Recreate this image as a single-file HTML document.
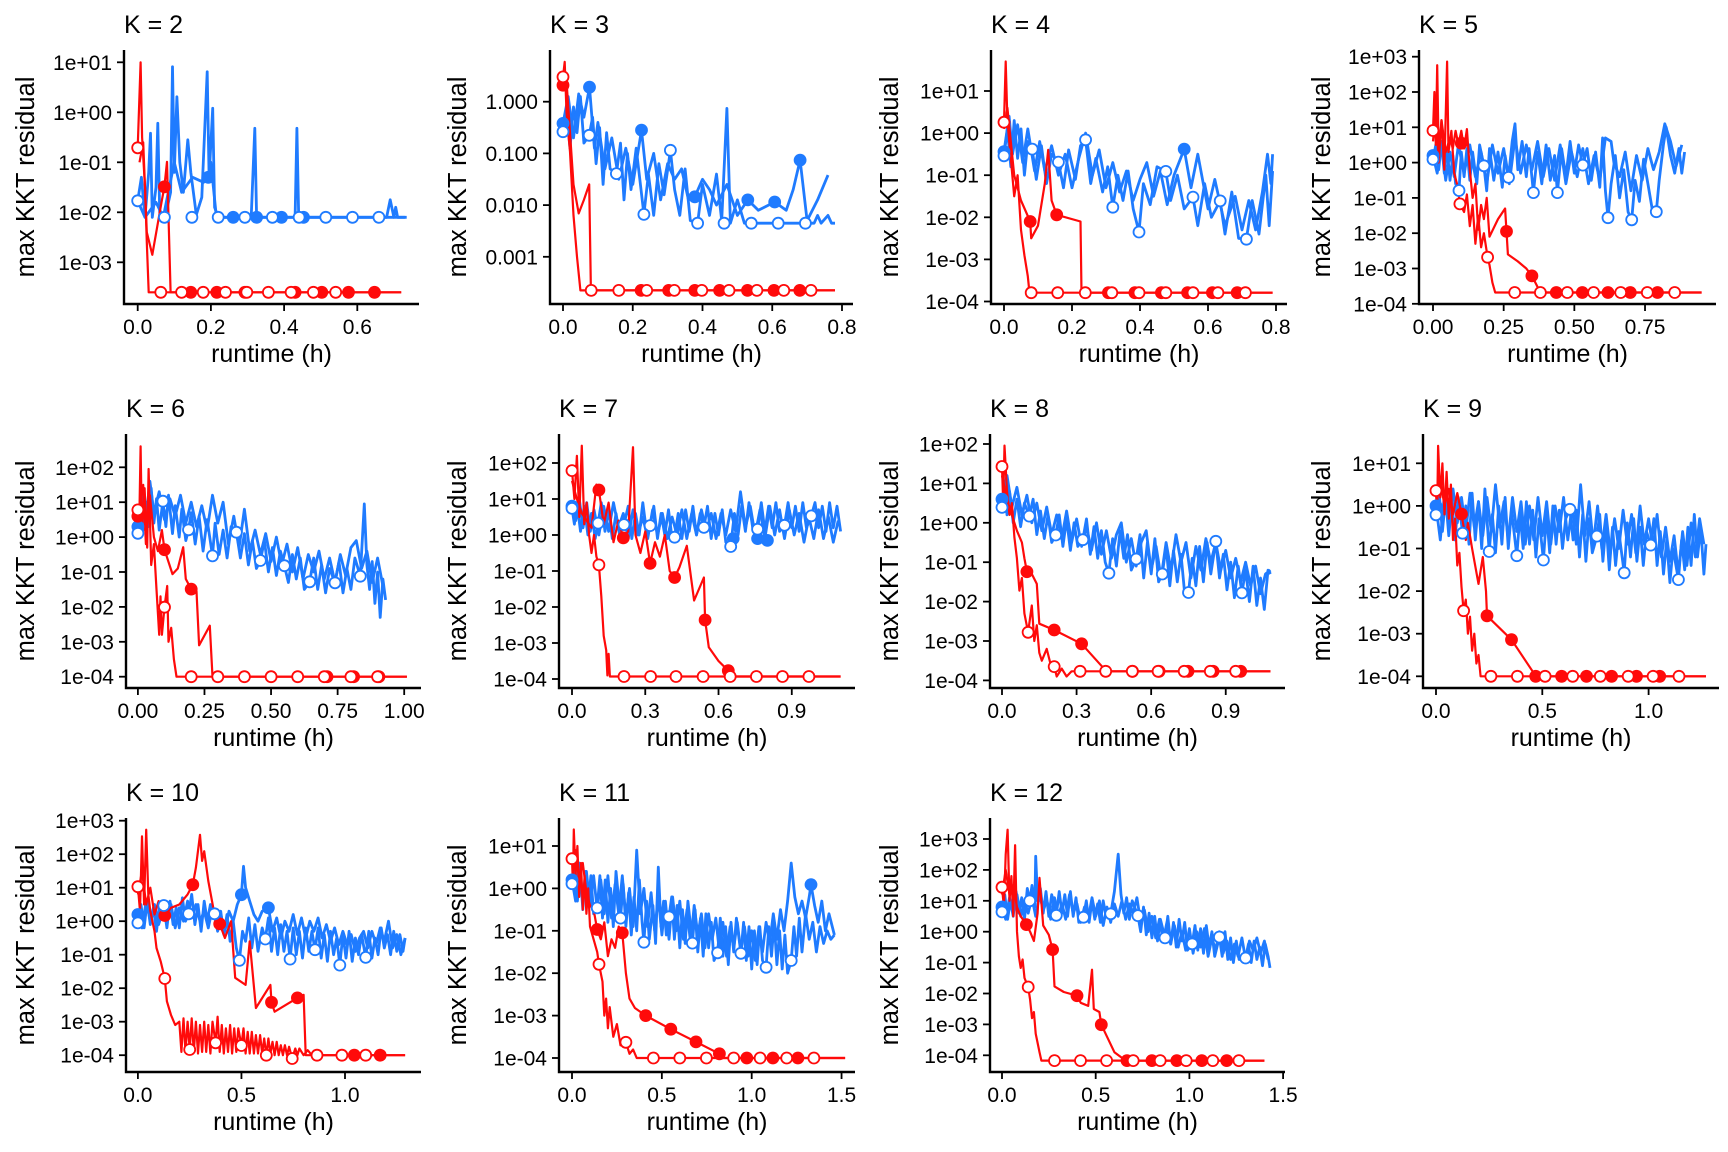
<!DOCTYPE html>
<html><head><meta charset="utf-8"><style>
html,body{margin:0;padding:0;background:#fff;}
svg{display:block;font-family:"Liberation Sans",Arial,sans-serif;}
</style></head><body>
<svg id="chart" width="1728" height="1152" viewBox="0 0 1728 1152" xmlns="http://www.w3.org/2000/svg"></svg>
<script>
// ---- data (y values are log10 of max KKT residual, x is runtime in hours) ----
const k2BlueOpen=[[0,-1.77],[0.01,-1.3],[0.02,-2.1],[0.03,-1.2],[0.035,-0.42],[0.04,-2.1],[0.05,-1.5],[0.055,-0.22],[0.06,-2.0],[0.075,-2.1],[0.09,-1.6],[0.095,0.91],[0.1,-1.2],[0.107,0.31],[0.115,-1.0],[0.125,-1.6],[0.137,-0.55],[0.145,-1.2],[0.16,-2.05],[0.175,-1.7],[0.19,0.81],[0.195,-1.3],[0.205,0.08],[0.21,-1.9],[0.22,-2.1],[0.31,-2.1],[0.32,-0.32],[0.325,-2.1],[0.43,-2.1],[0.435,-0.32],[0.44,-2.1],[0.68,-2.1],[0.69,-1.75],[0.7,-2.1],[0.705,-1.9],[0.71,-2.1],[0.735,-2.1]];
const k2BlueFilled=[[0,-1.77],[0.02,-2.1],[0.05,-1.8],[0.07,-2.1],[0.1,-1.0],[0.12,-1.6],[0.15,-1.3],[0.18,-1.4],[0.193,-1.3],[0.2,-1.0],[0.215,-2.1],[0.73,-2.1]];
const k2RedOpen=[[0,-0.71],[0.008,1.0],[0.012,-0.5],[0.02,-1.5],[0.025,-2.6],[0.03,-3.6],[0.72,-3.6]];
const k2RedFilled=[[0.005,-1.0],[0.015,-0.6],[0.025,-2.4],[0.04,-2.85],[0.065,-1.8],[0.073,-1.49],[0.08,-0.99],[0.09,-3.6],[0.72,-3.6]];
const k2BlueOpenMarks=[[0,-1.77],[0.073,-2.1],[0.148,-2.1],[0.22,-2.1],[0.293,-2.1],[0.368,-2.1],[0.441,-2.1],[0.514,-2.1],[0.587,-2.1],[0.659,-2.1]];
const k2BlueFilledMarks=[[0.193,-1.3],[0.261,-2.1],[0.325,-2.1],[0.393,-2.1],[0.453,-2.1]];
const k2RedOpenMarks=[[0,-0.71],[0.063,-3.6],[0.12,-3.6],[0.179,-3.6],[0.24,-3.6],[0.298,-3.6],[0.357,-3.6],[0.419,-3.6],[0.48,-3.6],[0.541,-3.6]];
const k2RedFilledMarks=[[0.073,-1.49],[0.145,-3.6],[0.216,-3.6],[0.293,-3.6],[0.43,-3.6],[0.503,-3.6],[0.576,-3.6],[0.647,-3.6]];

const k3BlueOpen=[[0,-0.58],[0.01,-0.2],[0.02,-0.9],[0.03,-0.1],[0.04,-0.6],[0.05,0.1],[0.06,-0.8],[0.075,-0.65],[0.085,-0.3],[0.095,-1.2],[0.105,-0.5],[0.115,-1.6],[0.125,-0.6],[0.135,-1.3],[0.153,-1.39],[0.165,-0.8],[0.175,-1.9],[0.185,-1.0],[0.195,-1.7],[0.21,-0.9],[0.232,-2.18],[0.245,-1.4],[0.26,-2.2],[0.275,-1.2],[0.29,-1.8],[0.308,-0.94],[0.32,-1.7],[0.335,-2.2],[0.35,-1.3],[0.365,-2.3],[0.386,-2.35],[0.4,-1.6],[0.42,-2.2],[0.44,-1.4],[0.455,-2.3],[0.47,-0.13],[0.48,-2.35],[0.5,-1.9],[0.52,-2.35],[0.72,-2.35],[0.73,-2.2],[0.74,-2.35],[0.76,-2.2],[0.77,-2.35],[0.78,-2.35]];
const k3BlueFilled=[[0,-0.42],[0.015,0.1],[0.03,-0.7],[0.045,0.15],[0.06,-0.3],[0.076,0.28],[0.09,-0.9],[0.1,-0.4],[0.12,-1.3],[0.14,-0.7],[0.16,-1.5],[0.18,-0.9],[0.2,-1.6],[0.225,-0.55],[0.24,-1.5],[0.26,-1.0],[0.28,-1.9],[0.3,-1.2],[0.32,-1.5],[0.34,-1.3],[0.36,-1.9],[0.378,-1.84],[0.4,-1.5],[0.42,-1.7],[0.44,-2.0],[0.47,-1.6],[0.5,-2.2],[0.53,-1.9],[0.56,-2.1],[0.607,-1.94],[0.64,-2.1],[0.66,-1.7],[0.68,-1.13],[0.7,-2.3],[0.73,-1.9],[0.76,-1.42]];
const k3RedOpen=[[0,0.48],[0.005,0.77],[0.01,-0.2],[0.02,-0.97],[0.03,-2.2],[0.04,-3.0],[0.05,-3.65],[0.78,-3.65]];
const k3RedFilled=[[0,0.32],[0.01,0.4],[0.02,-0.6],[0.03,-1.6],[0.045,-2.16],[0.06,-1.9],[0.075,-1.6],[0.08,-3.65],[0.78,-3.65]];
const k3BlueOpenMarks=[[0,-0.58],[0.075,-0.65],[0.153,-1.39],[0.232,-2.18],[0.308,-0.94],[0.386,-2.35],[0.462,-2.35],[0.54,-2.35],[0.617,-2.35],[0.695,-2.35]];
const k3BlueFilledMarks=[[0,-0.42],[0.076,0.28],[0.225,-0.55],[0.378,-1.84],[0.53,-1.9],[0.607,-1.94],[0.68,-1.13]];
const k3RedOpenMarks=[[0,0.48],[0.081,-3.65],[0.16,-3.65],[0.24,-3.65],[0.319,-3.65],[0.398,-3.65],[0.476,-3.65],[0.556,-3.65],[0.633,-3.65],[0.711,-3.65]];
const k3RedFilledMarks=[[0,0.32],[0.224,-3.65],[0.303,-3.65],[0.378,-3.65],[0.449,-3.65],[0.529,-3.65],[0.605,-3.65],[0.679,-3.65]];

const k4BlueOpen=[[0,-0.54],[0.01,0.1],[0.02,-0.8],[0.03,0.3],[0.04,-0.6],[0.05,0.1],[0.06,-1.0],[0.07,-0.2],[0.083,-0.38],[0.095,-1.1],[0.11,-0.3],[0.125,-1.2],[0.14,-0.5],[0.16,-0.69],[0.175,-1.3],[0.19,-0.4],[0.21,-1.1],[0.225,-0.3],[0.24,-0.16],[0.255,-1.2],[0.27,-0.6],[0.29,-1.4],[0.305,-0.8],[0.32,-1.76],[0.335,-1.0],[0.35,-1.6],[0.365,-0.9],[0.38,-1.8],[0.397,-2.35],[0.41,-1.2],[0.43,-1.7],[0.45,-0.8],[0.476,-0.91],[0.49,-1.6],[0.51,-1.0],[0.53,-1.8],[0.556,-1.52],[0.57,-2.2],[0.59,-1.2],[0.61,-2.0],[0.636,-1.61],[0.65,-2.4],[0.67,-1.4],[0.69,-2.5],[0.713,-2.52],[0.73,-1.6],[0.75,-2.4],[0.77,-1.0],[0.78,-2.2],[0.79,-0.9]];
const k4BlueFilled=[[0,-0.44],[0.015,0.4],[0.025,-0.5],[0.04,0.2],[0.055,-0.7],[0.07,0.1],[0.09,-0.9],[0.105,-0.2],[0.12,-0.9],[0.14,-0.3],[0.16,-1.0],[0.18,-0.5],[0.2,-1.3],[0.22,-0.6],[0.24,0.0],[0.26,-1.0],[0.28,-0.4],[0.3,-1.3],[0.32,-0.7],[0.34,-1.4],[0.36,-0.9],[0.38,-1.6],[0.4,-1.1],[0.42,-0.7],[0.44,-1.5],[0.46,-0.9],[0.48,-1.7],[0.5,-1.0],[0.53,-0.38],[0.55,-1.3],[0.57,-0.5],[0.6,-1.8],[0.62,-1.1],[0.65,-2.2],[0.68,-1.5],[0.7,-2.3],[0.72,-1.6],[0.74,-2.3],[0.76,-1.4],[0.775,-0.5],[0.785,-1.2],[0.79,-0.5]];
const k4RedOpen=[[0,0.26],[0.005,1.7],[0.01,0.3],[0.02,-0.6],[0.03,-1.5],[0.04,-1.0],[0.05,-2.3],[0.06,-2.9],[0.07,-3.4],[0.075,-3.79],[0.79,-3.79]];
const k4RedFilled=[[0,0.1],[0.01,0.6],[0.03,-1.0],[0.05,-1.6],[0.077,-2.1],[0.08,-2.5],[0.1,-2.2],[0.12,-1.2],[0.13,-0.4],[0.14,-1.6],[0.155,-1.94],[0.225,-2.1],[0.228,-3.79],[0.79,-3.79]];
const k4BlueOpenMarks=[[0,-0.54],[0.083,-0.38],[0.16,-0.69],[0.24,-0.16],[0.32,-1.76],[0.397,-2.35],[0.476,-0.91],[0.556,-1.52],[0.636,-1.61],[0.713,-2.52]];
const k4BlueFilledMarks=[[0,-0.44],[0.53,-0.38]];
const k4RedOpenMarks=[[0,0.26],[0.08,-3.79],[0.158,-3.79],[0.239,-3.79],[0.317,-3.79],[0.397,-3.79],[0.476,-3.79],[0.556,-3.79],[0.629,-3.79],[0.71,-3.79]];
const k4RedFilledMarks=[[0.077,-2.1],[0.155,-1.94],[0.307,-3.79],[0.385,-3.79],[0.463,-3.79],[0.54,-3.79],[0.613,-3.79],[0.686,-3.79]];

const k5BlueOpen=[[0,0.09],[0.01,0.5],[0.02,-0.2],[0.03,0.6],[0.04,-0.3],[0.05,0.4],[0.06,-0.5],[0.07,0.2],[0.08,-0.6],[0.092,-0.79],[0.1,0.3],[0.11,-0.4],[0.12,0.4],[0.13,-0.5],[0.14,0.3],[0.155,-0.6],[0.165,0.5],[0.18,-0.09],[0.19,-0.8],[0.2,0.4],[0.215,-0.5],[0.23,0.3],[0.245,-0.7],[0.255,0.2],[0.267,-0.42],[0.28,0.6],[0.29,1.1],[0.3,-0.2],[0.315,0.6],[0.33,-0.4],[0.34,0.4],[0.355,-0.85],[0.37,0.3],[0.385,-0.6],[0.4,0.5],[0.415,-0.5],[0.43,0.2],[0.44,-0.85],[0.455,0.4],[0.47,-0.4],[0.485,0.6],[0.5,-0.3],[0.515,0.5],[0.53,-0.07],[0.545,0.4],[0.56,-0.5],[0.575,0.3],[0.59,-0.7],[0.6,0.7],[0.61,-0.8],[0.619,-1.56],[0.63,-0.6],[0.645,0.2],[0.66,-1.0],[0.675,-0.2],[0.69,-1.4],[0.703,-1.62],[0.715,-0.5],[0.73,-1.1],[0.745,0.1],[0.76,-0.6],[0.775,-1.3],[0.79,-1.39],[0.8,-0.5],[0.815,0.5],[0.825,1.0],[0.84,0.2],[0.855,-0.3],[0.87,0.4],[0.88,-0.3],[0.89,0.3]];
const k5BlueFilled=[[0,0.2],[0.015,-0.3],[0.03,0.5],[0.045,-0.5],[0.06,0.3],[0.075,-0.4],[0.09,0.5],[0.11,-0.3],[0.13,0.5],[0.15,-0.4],[0.17,0.3],[0.19,-0.6],[0.21,0.5],[0.23,-0.3],[0.25,0.4],[0.27,-0.6],[0.29,0.7],[0.31,-0.3],[0.33,0.5],[0.35,-0.2],[0.37,0.6],[0.39,-0.4],[0.41,0.4],[0.43,-0.5],[0.45,0.5],[0.47,-0.6],[0.49,0.3],[0.51,-0.4],[0.53,0.4],[0.55,-0.6],[0.57,0.2],[0.59,-0.5],[0.61,0.7],[0.63,0.6],[0.64,0.0],[0.66,-0.4],[0.68,0.3],[0.7,-0.8],[0.72,0.2],[0.74,-0.5],[0.76,0.4],[0.78,-0.2],[0.8,0.3],[0.82,1.1],[0.84,0.6],[0.86,-0.1],[0.88,0.5]];
const k5RedOpen=[[0,0.91],[0.005,2.0],[0.01,0.5],[0.015,2.76],[0.02,0.2],[0.03,1.2],[0.04,-0.2],[0.05,2.86],[0.055,0.3],[0.065,0.9],[0.075,-0.3],[0.085,-0.6],[0.095,-1.17],[0.11,-1.4],[0.12,-0.9],[0.13,-1.8],[0.14,-1.2],[0.15,-2.3],[0.16,-1.5],[0.17,-2.4],[0.18,-2.0],[0.193,-2.68],[0.2,-2.9],[0.21,-3.4],[0.22,-3.68],[0.95,-3.68]];
const k5RedFilled=[[0,0.6],[0.01,1.5],[0.02,0.0],[0.03,1.2],[0.045,0.3],[0.06,0.7],[0.07,0.4],[0.08,0.9],[0.09,0.5],[0.1,0.9],[0.11,0.4],[0.12,0.95],[0.13,-0.2],[0.14,-1.0],[0.15,-0.6],[0.16,-1.9],[0.17,-1.2],[0.18,-1.6],[0.19,-1.0],[0.2,-2.1],[0.23,-1.6],[0.255,-1.3],[0.26,-1.95],[0.265,-2.6],[0.3,-2.8],[0.33,-3.0],[0.35,-3.21],[0.38,-3.68],[0.95,-3.68]];
const k5BlueOpenMarks=[[0,0.09],[0.092,-0.79],[0.18,-0.09],[0.267,-0.42],[0.355,-0.85],[0.44,-0.85],[0.53,-0.07],[0.619,-1.56],[0.703,-1.62],[0.79,-1.39]];
const k5BlueFilledMarks=[[0,0.2]];
const k5RedOpenMarks=[[0,0.91],[0.095,-1.17],[0.193,-2.68],[0.289,-3.68],[0.38,-3.68],[0.475,-3.68],[0.568,-3.68],[0.664,-3.68],[0.758,-3.68],[0.855,-3.68]];
const k5RedFilledMarks=[[0.1,0.55],[0.26,-1.95],[0.35,-3.21],[0.436,-3.68],[0.528,-3.68],[0.619,-3.68],[0.698,-3.68],[0.794,-3.68]];

const k6BlueOpen=[[0,0.11],[0.01,0.8],[0.02,0.2],[0.03,1.0],[0.04,0.3],[0.05,1.4],[0.06,0.4],[0.07,1.1],[0.08,0.2],[0.094,1.03],[0.105,0.3],[0.115,1.2],[0.13,0.1],[0.14,0.9],[0.155,0.0],[0.165,0.8],[0.18,-0.1],[0.19,0.21],[0.2,0.7],[0.215,-0.2],[0.23,0.6],[0.245,-0.4],[0.26,0.5],[0.28,-0.54],[0.29,0.4],[0.305,-0.5],[0.32,0.2],[0.335,-0.6],[0.35,0.3],[0.37,0.14],[0.385,-0.6],[0.4,0.1],[0.415,-0.8],[0.43,-0.1],[0.445,-0.9],[0.46,-0.67],[0.475,-0.1],[0.49,-1.0],[0.505,-0.3],[0.52,-1.1],[0.535,-0.4],[0.55,-0.82],[0.565,-1.3],[0.58,-0.5],[0.595,-1.2],[0.61,-0.6],[0.625,-1.5],[0.645,-1.28],[0.66,-0.6],[0.675,-1.5],[0.69,-0.8],[0.705,-1.6],[0.72,-0.9],[0.74,-1.31],[0.755,-0.7],[0.77,-1.6],[0.785,-0.9],[0.8,-1.5],[0.815,-0.6],[0.835,-1.12],[0.85,0.95],[0.86,-0.8],[0.87,-1.5],[0.88,-0.7],[0.89,-1.9],[0.9,-1.0],[0.91,-2.3],[0.92,-1.2],[0.93,-1.8]];
const k6BlueFilled=[[0,0.3],[0.015,1.2],[0.03,0.5],[0.045,1.6],[0.06,0.7],[0.08,1.3],[0.1,0.5],[0.12,1.1],[0.14,0.6],[0.16,1.2],[0.18,0.4],[0.2,1.0],[0.22,0.3],[0.24,0.9],[0.26,0.2],[0.28,1.2],[0.3,0.4],[0.32,1.0],[0.34,-0.2],[0.36,0.6],[0.38,-0.3],[0.4,0.8],[0.42,-0.4],[0.44,0.2],[0.46,-0.5],[0.48,0.1],[0.5,-0.7],[0.52,0.0],[0.54,-0.8],[0.56,-0.2],[0.58,-1.0],[0.6,-0.3],[0.62,-1.2],[0.64,-0.5],[0.66,-1.0],[0.68,-0.4],[0.7,-1.2],[0.72,-0.6],[0.74,-1.3],[0.76,-0.5],[0.78,-1.1],[0.8,-0.3],[0.82,-0.1],[0.84,-0.9],[0.86,-0.4],[0.88,-1.3],[0.9,-0.6],[0.92,-1.4]];
const k6RedOpen=[[0,0.78],[0.005,0.3],[0.01,2.6],[0.015,0.2],[0.025,1.4],[0.035,-0.3],[0.04,1.95],[0.05,-0.8],[0.06,-0.2],[0.07,-1.5],[0.08,-2.8],[0.085,-1.7],[0.09,-2.8],[0.1,-2.01],[0.11,-1.4],[0.115,-3.0],[0.125,-2.6],[0.135,-3.5],[0.145,-4.0],[1.01,-4.0]];
const k6RedFilled=[[0,0.6],[0.02,1.5],[0.03,-0.2],[0.045,1.2],[0.06,0.0],[0.075,-0.4],[0.09,0.2],[0.1,-0.36],[0.13,-1.06],[0.15,-0.9],[0.17,-0.29],[0.18,-1.2],[0.2,-1.49],[0.22,-1.55],[0.23,-3.1],[0.27,-2.54],[0.28,-4.0],[1.01,-4.0]];
const k6BlueOpenMarks=[[0,0.11],[0.094,1.03],[0.19,0.21],[0.28,-0.54],[0.37,0.14],[0.46,-0.67],[0.55,-0.82],[0.645,-1.28],[0.74,-1.31],[0.835,-1.12]];
const k6BlueFilledMarks=[[0,0.3]];
const k6RedOpenMarks=[[0,0.78],[0.1,-2.01],[0.2,-4],[0.3,-4],[0.4,-4],[0.5,-4],[0.6,-4],[0.7,-4],[0.8,-4],[0.9,-4]];
const k6RedFilledMarks=[[0,0.6],[0.1,-0.36],[0.2,-1.49],[0.71,-4],[0.81,-4],[0.905,-4]];

const k7BlueOpen=[[0,0.74],[0.01,0.3],[0.02,0.9],[0.035,0.1],[0.05,0.8],[0.065,0.0],[0.08,0.6],[0.095,-0.1],[0.107,0.33],[0.12,0.9],[0.135,0.1],[0.15,0.7],[0.165,-0.1],[0.18,0.6],[0.195,0.0],[0.213,0.29],[0.23,0.8],[0.245,-0.1],[0.26,0.6],[0.275,0.0],[0.29,0.9],[0.305,0.1],[0.32,0.26],[0.335,0.8],[0.35,-0.1],[0.365,0.6],[0.38,0.0],[0.395,0.7],[0.41,-0.1],[0.42,-0.06],[0.435,0.6],[0.45,-0.1],[0.465,0.7],[0.48,0.1],[0.495,0.8],[0.51,0.0],[0.525,0.6],[0.54,0.21],[0.555,0.8],[0.57,-0.1],[0.585,0.6],[0.6,0.0],[0.615,0.7],[0.63,-0.2],[0.65,-0.32],[0.665,0.6],[0.68,0.0],[0.695,0.8],[0.71,0.1],[0.725,0.9],[0.74,0.2],[0.76,0.16],[0.775,0.9],[0.79,0.1],[0.805,0.8],[0.82,0.2],[0.835,0.9],[0.85,0.1],[0.87,0.27],[0.885,0.9],[0.9,0.2],[0.915,0.8],[0.93,0.1],[0.945,0.9],[0.96,0.2],[0.98,0.53],[0.995,0.9],[1.01,0.2],[1.025,0.8],[1.04,0.1],[1.055,0.9],[1.07,0.2],[1.085,0.8],[1.1,0.1]];
const k7BlueFilled=[[0,0.8],[0.015,0.4],[0.03,1.0],[0.045,0.2],[0.06,0.9],[0.075,0.1],[0.09,0.7],[0.11,0.0],[0.13,0.8],[0.15,0.1],[0.17,0.9],[0.19,0.2],[0.21,0.6],[0.23,-0.1],[0.25,0.7],[0.27,0.0],[0.29,0.5],[0.31,-0.1],[0.33,0.7],[0.35,0.0],[0.37,0.6],[0.39,-0.1],[0.41,0.5],[0.43,0.0],[0.45,0.7],[0.47,-0.1],[0.49,0.6],[0.51,0.0],[0.53,0.7],[0.55,0.1],[0.57,0.6],[0.59,-0.1],[0.61,0.6],[0.63,0.0],[0.65,0.7],[0.67,0.1],[0.69,1.2],[0.71,0.2],[0.73,0.8],[0.75,0.0],[0.77,0.7],[0.79,-0.1],[0.81,0.8],[0.83,0.0],[0.85,0.7],[0.87,-0.1],[0.89,0.7],[0.91,0.0],[0.93,0.6],[0.95,-0.2],[0.97,0.5],[0.99,-0.1],[1.01,0.7],[1.03,-0.1],[1.05,0.5],[1.07,-0.2],[1.09,0.4]];
const k7RedOpen=[[0,1.79],[0.01,1.0],[0.02,2.2],[0.03,0.5],[0.04,2.48],[0.05,0.3],[0.06,0.9],[0.07,0.0],[0.08,-0.5],[0.09,0.0],[0.1,-0.6],[0.11,-0.83],[0.12,-1.7],[0.13,-2.8],[0.14,-3.2],[0.145,-3.9],[0.15,-3.3],[0.155,-3.93],[1.1,-3.93]];
const k7RedFilled=[[0,1.5],[0.02,1.0],[0.04,0.6],[0.06,0.4],[0.08,0.2],[0.1,1.4],[0.11,1.25],[0.13,0.3],[0.15,0.9],[0.17,-0.2],[0.19,0.4],[0.21,-0.08],[0.23,0.1],[0.25,2.44],[0.26,0.0],[0.28,-0.5],[0.3,0.1],[0.32,-0.79],[0.34,-0.2],[0.36,-0.6],[0.38,0.0],[0.4,-1.0],[0.42,-1.18],[0.44,-0.9],[0.47,-0.3],[0.5,-1.82],[0.54,-1.18],[0.545,-2.36],[0.56,-3.12],[0.6,-3.5],[0.64,-3.77],[0.66,-3.93],[1.1,-3.93]];
const k7BlueOpenMarks=[[0,0.74],[0.107,0.33],[0.213,0.29],[0.32,0.26],[0.42,-0.06],[0.54,0.21],[0.65,-0.32],[0.76,0.16],[0.87,0.27],[0.98,0.53]];
const k7BlueFilledMarks=[[0,0.8],[0.66,-0.1],[0.76,-0.1],[0.8,-0.15]];
const k7RedOpenMarks=[[0,1.79],[0.11,-0.83],[0.213,-3.93],[0.322,-3.93],[0.426,-3.93],[0.537,-3.93],[0.648,-3.93],[0.755,-3.93],[0.862,-3.93],[0.97,-3.93]];
const k7RedFilledMarks=[[0.11,1.25],[0.21,-0.08],[0.32,-0.79],[0.42,-1.18],[0.545,-2.36],[0.64,-3.77]];

const k8BlueOpen=[[0,0.39],[0.01,1.0],[0.02,0.2],[0.03,0.8],[0.045,0.0],[0.06,0.6],[0.075,-0.1],[0.09,0.5],[0.11,0.17],[0.125,0.6],[0.14,-0.3],[0.155,0.3],[0.17,-0.4],[0.185,0.2],[0.2,-0.5],[0.216,-0.31],[0.23,0.2],[0.245,-0.6],[0.26,0.1],[0.275,-0.7],[0.29,0.0],[0.305,-0.6],[0.325,-0.43],[0.34,0.1],[0.355,-0.8],[0.37,-0.1],[0.385,-0.9],[0.4,-0.2],[0.415,-1.0],[0.43,-1.28],[0.445,-0.4],[0.46,-1.1],[0.475,-0.2],[0.49,-0.9],[0.505,-0.3],[0.52,-1.2],[0.54,-0.92],[0.555,-0.3],[0.57,-1.4],[0.585,-0.5],[0.6,-1.3],[0.615,-0.4],[0.63,-1.5],[0.645,-1.3],[0.66,-0.6],[0.675,-1.6],[0.69,-0.7],[0.705,-1.5],[0.72,-0.8],[0.735,-1.8],[0.75,-1.77],[0.765,-0.9],[0.78,-1.6],[0.795,-0.6],[0.81,-1.5],[0.825,-0.5],[0.84,-1.3],[0.86,-0.47],[0.875,-1.4],[0.89,-0.8],[0.905,-1.7],[0.92,-1.0],[0.935,-1.9],[0.95,-1.1],[0.965,-1.78],[0.98,-1.2],[0.995,-2.0],[1.01,-1.1],[1.025,-2.1],[1.04,-1.4],[1.055,-2.2],[1.07,-1.2],[1.08,-1.3]];
const k8BlueFilled=[[0,0.6],[0.02,1.2],[0.04,0.4],[0.06,0.9],[0.08,0.2],[0.1,0.7],[0.12,0.0],[0.14,0.5],[0.16,-0.2],[0.18,0.4],[0.2,-0.3],[0.22,0.2],[0.24,-0.4],[0.26,0.3],[0.28,-0.5],[0.3,0.1],[0.32,-0.6],[0.34,-0.1],[0.36,-0.7],[0.38,0.0],[0.4,-0.8],[0.42,-0.2],[0.44,-0.9],[0.46,-0.3],[0.48,0.0],[0.5,-1.0],[0.52,-0.4],[0.54,-1.1],[0.56,-0.5],[0.58,-0.2],[0.6,-1.2],[0.62,-0.6],[0.64,-1.4],[0.66,-0.5],[0.68,-1.2],[0.7,-0.3],[0.72,-1.0],[0.74,-0.5],[0.76,-1.4],[0.78,-0.6],[0.8,-1.2],[0.82,-0.4],[0.84,-1.0],[0.86,-0.5],[0.88,-1.2],[0.9,-0.7],[0.92,-1.4],[0.94,-0.9],[0.96,-1.5],[0.98,-1.0],[1.0,-1.6],[1.02,-1.1],[1.04,-1.8],[1.06,-1.3],[1.08,-1.2]];
const k8RedOpen=[[0,1.43],[0.005,0.5],[0.01,1.96],[0.02,0.8],[0.03,0.2],[0.04,0.5],[0.05,-0.37],[0.06,-0.9],[0.07,-1.72],[0.08,-1.4],[0.09,-2.3],[0.105,-2.78],[0.12,-2.1],[0.13,-3.0],[0.14,-2.6],[0.15,-3.3],[0.16,-3.5],[0.18,-3.2],[0.2,-3.7],[0.21,-3.65],[0.22,-3.9],[0.24,-3.7],[0.26,-3.9],[0.28,-3.77],[1.08,-3.77]];
const k8RedFilled=[[0,1.2],[0.02,0.6],[0.04,0.2],[0.06,-0.2],[0.08,-0.5],[0.09,-0.9],[0.1,-1.24],[0.12,-1.3],[0.14,-1.55],[0.15,-2.56],[0.21,-2.72],[0.32,-3.07],[0.42,-3.77],[1.08,-3.77]];
const k8BlueOpenMarks=[[0,0.39],[0.11,0.17],[0.216,-0.31],[0.325,-0.43],[0.43,-1.28],[0.54,-0.92],[0.645,-1.3],[0.75,-1.77],[0.86,-0.47],[0.965,-1.78]];
const k8BlueFilledMarks=[[0,0.6]];
const k8RedOpenMarks=[[0,1.43],[0.105,-2.78],[0.21,-3.65],[0.314,-3.77],[0.417,-3.77],[0.524,-3.77],[0.628,-3.77],[0.733,-3.77],[0.838,-3.77],[0.94,-3.77]];
const k8RedFilledMarks=[[0.1,-1.24],[0.21,-2.72],[0.32,-3.07],[0.525,-3.77],[0.632,-3.77],[0.748,-3.77],[0.849,-3.77],[0.96,-3.77]];

const k9BlueOpen=[[0,-0.21],[0.015,0.3],[0.03,-0.6],[0.045,0.2],[0.06,-0.7],[0.075,0.1],[0.09,-0.8],[0.105,0.2],[0.125,-0.64],[0.14,0.0],[0.155,-0.9],[0.17,0.3],[0.185,-0.8],[0.2,0.1],[0.215,-1.0],[0.23,0.4],[0.25,-1.07],[0.265,-0.2],[0.28,-1.1],[0.295,0.0],[0.31,-0.9],[0.325,0.2],[0.34,-1.0],[0.355,-0.1],[0.38,-1.17],[0.395,-0.2],[0.41,-1.0],[0.425,0.1],[0.44,-0.9],[0.455,-0.1],[0.47,-1.2],[0.485,-0.3],[0.505,-1.27],[0.52,-0.2],[0.535,-1.1],[0.55,0.0],[0.565,-0.9],[0.58,-0.1],[0.595,-1.0],[0.61,-0.3],[0.63,-0.08],[0.645,-0.8],[0.66,-0.1],[0.675,-1.2],[0.69,-0.2],[0.705,-1.3],[0.72,-0.3],[0.735,-1.1],[0.757,-0.71],[0.77,-0.2],[0.785,-1.3],[0.8,-0.4],[0.815,-1.5],[0.83,-0.5],[0.845,-1.4],[0.86,-0.6],[0.885,-1.57],[0.9,-0.4],[0.915,-1.2],[0.93,-0.3],[0.945,-1.3],[0.96,-0.5],[0.975,-1.4],[0.99,-0.6],[1.01,-0.92],[1.025,-0.3],[1.04,-1.4],[1.055,-0.6],[1.07,-1.6],[1.085,-0.8],[1.1,-1.8],[1.115,-1.0],[1.14,-1.73],[1.155,-0.8],[1.17,-1.5],[1.185,-0.5],[1.2,-1.4],[1.215,-0.2],[1.23,-1.2],[1.245,-0.5],[1.26,-1.6],[1.27,-0.9]];
const k9BlueFilled=[[0,0.0],[0.02,-0.8],[0.04,0.3],[0.06,-0.5],[0.08,0.4],[0.1,-0.4],[0.12,0.2],[0.14,-0.6],[0.16,0.3],[0.18,-0.5],[0.2,0.1],[0.22,-0.7],[0.24,0.2],[0.26,-0.6],[0.28,0.5],[0.3,-0.5],[0.32,0.1],[0.34,-0.8],[0.36,0.2],[0.38,-0.6],[0.4,0.1],[0.42,-0.9],[0.44,0.0],[0.46,-0.8],[0.48,0.2],[0.5,-0.7],[0.52,0.1],[0.54,-0.9],[0.56,0.0],[0.58,-0.6],[0.6,0.2],[0.62,-0.8],[0.64,0.0],[0.66,-0.9],[0.68,0.5],[0.7,-0.7],[0.72,0.1],[0.74,-0.9],[0.76,0.0],[0.78,-1.0],[0.8,-0.2],[0.82,-1.1],[0.84,-0.3],[0.86,-1.0],[0.88,-0.1],[0.9,-0.9],[0.92,-0.2],[0.94,-1.1],[0.96,0.0],[0.98,-0.9],[1.0,-0.3],[1.02,-1.0],[1.04,-0.2],[1.06,-1.2],[1.08,-0.5],[1.1,-1.3],[1.12,-0.7],[1.14,-1.6],[1.16,-0.6],[1.18,-1.4],[1.2,-0.4],[1.22,-1.2],[1.24,-0.3],[1.26,-0.9]];
const k9RedOpen=[[0,0.36],[0.005,-0.3],[0.01,1.41],[0.02,0.2],[0.03,1.0],[0.04,-0.2],[0.05,0.8],[0.06,-0.3],[0.07,0.5],[0.08,-0.8],[0.09,-0.3],[0.1,-1.4],[0.11,-1.1],[0.12,-1.9],[0.13,-2.46],[0.14,-2.2],[0.15,-3.0],[0.16,-2.6],[0.17,-3.4],[0.18,-3.0],[0.19,-3.7],[0.2,-3.5],[0.21,-4.0],[1.27,-4.0]];
const k9RedFilled=[[0,0.2],[0.02,0.6],[0.04,0.0],[0.06,0.4],[0.08,-0.2],[0.1,0.3],[0.12,-0.19],[0.14,-0.8],[0.15,-0.4],[0.17,-1.0],[0.2,-1.83],[0.22,-1.2],[0.235,-2.0],[0.24,-2.58],[0.355,-3.14],[0.47,-4.0],[1.27,-4.0]];
const k9BlueOpenMarks=[[0,-0.21],[0.125,-0.64],[0.25,-1.07],[0.38,-1.17],[0.505,-1.27],[0.63,-0.08],[0.757,-0.71],[0.885,-1.57],[1.01,-0.92],[1.14,-1.73]];
const k9BlueFilledMarks=[[0,0.0]];
const k9RedOpenMarks=[[0,0.36],[0.13,-2.46],[0.258,-4],[0.383,-4],[0.513,-4],[0.643,-4],[0.773,-4],[0.904,-4],[1.021,-4],[1.143,-4]];
const k9RedFilledMarks=[[0.12,-0.19],[0.24,-2.58],[0.355,-3.14],[0.469,-4],[0.591,-4],[0.708,-4],[0.826,-4],[0.943,-4],[1.052,-4]];

const k10BlueOpen=[[0,-0.05],[0.015,0.5],[0.03,-0.2],[0.045,0.6],[0.06,-0.1],[0.075,0.4],[0.09,-0.3],[0.105,0.5],[0.125,0.47],[0.14,-0.2],[0.155,0.6],[0.17,-0.1],[0.185,0.4],[0.2,-0.2],[0.215,0.7],[0.23,0.0],[0.245,0.22],[0.26,0.8],[0.275,-0.1],[0.29,0.5],[0.305,-0.3],[0.32,0.6],[0.335,0.0],[0.35,0.5],[0.37,0.22],[0.385,-0.3],[0.4,0.3],[0.415,-0.4],[0.43,0.2],[0.445,-0.6],[0.46,0.0],[0.475,-0.8],[0.49,-1.17],[0.505,-0.3],[0.52,-0.6],[0.535,0.1],[0.55,-0.8],[0.565,-0.1],[0.58,-0.9],[0.6,-0.2],[0.615,-0.53],[0.63,0.1],[0.645,-0.9],[0.66,-0.2],[0.675,-1.0],[0.69,-0.1],[0.705,-0.9],[0.72,-0.3],[0.735,-1.13],[0.75,-0.2],[0.765,-1.0],[0.78,-0.3],[0.795,-1.1],[0.81,-0.2],[0.825,-0.9],[0.84,-0.3],[0.855,-0.85],[0.87,-0.2],[0.885,-1.1],[0.9,-0.4],[0.915,-1.2],[0.93,-0.3],[0.945,-1.0],[0.96,-0.5],[0.975,-1.31],[0.99,-0.4],[1.005,-1.1],[1.02,-0.3],[1.035,-1.2],[1.05,-0.5],[1.065,-1.0],[1.08,-0.4],[1.1,-1.08],[1.115,-0.3],[1.13,-1.1],[1.145,-0.5],[1.16,-1.0],[1.175,-0.2],[1.19,-0.8],[1.205,-0.4],[1.22,-1.0],[1.235,-0.3],[1.25,-0.9],[1.265,-0.4],[1.28,-0.9],[1.29,-0.5]];
const k10BlueFilled=[[0,0.2],[0.02,-0.2],[0.04,0.6],[0.06,0.0],[0.08,0.5],[0.1,-0.1],[0.12,0.3],[0.14,0.0],[0.16,0.5],[0.18,-0.2],[0.2,0.4],[0.22,0.0],[0.24,0.6],[0.26,0.1],[0.28,0.5],[0.3,0.0],[0.32,0.3],[0.34,-0.2],[0.36,0.4],[0.38,-0.1],[0.4,0.2],[0.42,-0.3],[0.44,0.3],[0.46,0.0],[0.48,0.5],[0.5,0.79],[0.51,1.64],[0.52,1.0],[0.54,0.6],[0.56,0.2],[0.58,0.0],[0.6,0.3],[0.63,0.4],[0.65,-0.3],[0.67,0.1],[0.69,-0.5],[0.71,0.0],[0.73,-0.3],[0.75,0.2],[0.77,-0.4],[0.79,0.1],[0.81,-0.5],[0.83,0.0],[0.85,-0.3],[0.87,0.1],[0.89,-0.5],[0.91,-0.1],[0.93,-0.6],[0.95,-0.2],[0.97,-0.7],[0.99,-0.3],[1.01,-0.7],[1.03,-0.4],[1.05,-0.9],[1.07,-0.5],[1.09,-0.3],[1.11,-0.8],[1.13,-0.3],[1.15,-0.7],[1.17,-0.2],[1.19,-0.6],[1.21,0.0],[1.23,-0.8],[1.25,-0.4],[1.27,-1.0],[1.29,-0.5]];
const k10RedOpen=[[0,1.03],[0.01,0.3],[0.02,2.53],[0.03,0.5],[0.04,2.73],[0.05,0.8],[0.06,0.3],[0.07,0.0],[0.08,-0.3],[0.09,-0.8],[0.1,-1.0],[0.11,-1.2],[0.13,-1.71],[0.14,-2.39],[0.16,-2.8],[0.18,-3.1],[0.2,-3.0],[0.21,-3.9],[0.22,-2.9],[0.23,-3.9],[0.24,-3.0],[0.25,-3.83],[0.26,-2.9],[0.27,-3.9],[0.28,-3.0],[0.29,-3.95],[0.3,-3.1],[0.31,-3.9],[0.32,-3.0],[0.33,-3.9],[0.34,-3.1],[0.35,-3.95],[0.36,-3.0],[0.375,-3.63],[0.385,-2.85],[0.395,-3.9],[0.405,-3.1],[0.415,-3.95],[0.425,-3.2],[0.435,-3.9],[0.445,-3.1],[0.455,-3.95],[0.465,-3.2],[0.475,-3.9],[0.485,-3.2],[0.5,-3.71],[0.51,-3.2],[0.52,-3.95],[0.53,-3.3],[0.54,-3.95],[0.55,-3.3],[0.56,-3.95],[0.57,-3.4],[0.58,-3.95],[0.59,-3.4],[0.6,-3.95],[0.61,-3.5],[0.62,-4.0],[0.63,-3.5],[0.64,-3.95],[0.65,-3.6],[0.66,-4.0],[0.67,-3.6],[0.68,-4.0],[0.69,-3.7],[0.7,-4.0],[0.71,-3.7],[0.72,-4.0],[0.73,-3.75],[0.745,-4.1],[0.76,-3.8],[0.77,-4.0],[0.78,-3.8],[0.8,-4.0],[0.82,-3.85],[0.84,-4.0],[0.86,-3.9],[0.88,-4.0],[1.29,-4.0]];
const k10RedFilled=[[0,0.8],[0.02,1.5],[0.04,0.5],[0.06,1.0],[0.08,0.2],[0.1,0.6],[0.13,0.17],[0.16,0.4],[0.2,0.5],[0.24,0.8],[0.265,1.09],[0.28,1.6],[0.3,2.58],[0.31,1.8],[0.32,2.09],[0.34,1.2],[0.37,0.2],[0.395,-0.08],[0.42,-0.5],[0.45,0.0],[0.47,-1.69],[0.52,-1.9],[0.54,-0.6],[0.57,-2.59],[0.64,-1.9],[0.645,-2.42],[0.66,-2.7],[0.77,-2.29],[0.8,-2.2],[0.81,-4.0],[1.29,-4.0]];
const k10BlueOpenMarks=[[0,-0.05],[0.125,0.47],[0.245,0.22],[0.37,0.22],[0.49,-1.17],[0.615,-0.53],[0.735,-1.13],[0.855,-0.85],[0.975,-1.31],[1.1,-1.08]];
const k10BlueFilledMarks=[[0,0.2],[0.5,0.79],[0.63,0.4]];
const k10RedOpenMarks=[[0,1.03],[0.13,-1.71],[0.25,-3.83],[0.375,-3.63],[0.5,-3.71],[0.62,-4.0],[0.745,-4.1],[0.865,-4.0],[0.985,-4.0],[1.1,-4.0]];
const k10RedFilledMarks=[[0.13,0.17],[0.265,1.09],[0.395,-0.08],[0.645,-2.42],[0.77,-2.29],[1.045,-4.0],[1.17,-4.0]];

const k11BlueOpen=[[0,0.11],[0.015,0.6],[0.03,-0.3],[0.045,0.5],[0.06,-0.5],[0.075,0.4],[0.09,-0.4],[0.105,0.3],[0.12,-0.6],[0.14,-0.46],[0.155,0.3],[0.17,-0.7],[0.185,0.2],[0.2,-0.8],[0.215,0.0],[0.23,-0.9],[0.245,0.4],[0.27,-0.7],[0.285,0.1],[0.3,-0.9],[0.315,-0.1],[0.33,-1.1],[0.345,-0.2],[0.36,-1.0],[0.375,0.2],[0.39,-0.8],[0.4,-1.27],[0.415,-0.3],[0.43,-1.2],[0.45,-0.4],[0.465,-1.3],[0.48,0.5],[0.495,-0.9],[0.51,-0.3],[0.525,-1.1],[0.54,-0.67],[0.555,-0.2],[0.57,-1.2],[0.585,-0.4],[0.6,-1.4],[0.615,-0.5],[0.63,-1.3],[0.645,-0.3],[0.67,-1.29],[0.685,-0.5],[0.7,-1.5],[0.715,-0.7],[0.73,-1.6],[0.745,-0.6],[0.76,-1.4],[0.775,-0.8],[0.79,-1.7],[0.81,-1.52],[0.825,-0.7],[0.84,-1.6],[0.855,-0.9],[0.87,-1.8],[0.885,-0.8],[0.9,-1.5],[0.915,-0.7],[0.94,-1.53],[0.955,-0.8],[0.97,-1.7],[0.985,-0.9],[1.0,-1.9],[1.015,-1.0],[1.03,-1.8],[1.045,-0.9],[1.06,-1.7],[1.08,-1.86],[1.095,-0.9],[1.11,-1.6],[1.125,-0.8],[1.14,-1.8],[1.155,-1.0],[1.17,-1.9],[1.185,-1.1],[1.2,-2.0],[1.22,-1.7],[1.235,-0.9],[1.25,-1.6],[1.265,-0.7],[1.28,-1.5],[1.3,-0.6],[1.32,-1.2],[1.34,-0.8],[1.36,-1.5],[1.38,-0.9],[1.4,-1.3],[1.42,-1.0],[1.44,-1.2],[1.46,-1.1]];
const k11BlueFilled=[[0,0.2],[0.02,-0.3],[0.04,0.6],[0.06,-0.2],[0.08,0.4],[0.1,-0.4],[0.12,0.3],[0.14,-0.5],[0.16,0.2],[0.18,-0.6],[0.2,0.3],[0.22,-0.7],[0.24,0.1],[0.26,-0.6],[0.28,0.3],[0.3,-0.7],[0.32,0.0],[0.34,-0.9],[0.36,0.9],[0.38,-0.6],[0.4,0.0],[0.42,-0.9],[0.44,-0.1],[0.46,-1.0],[0.48,-0.2],[0.5,-1.1],[0.52,-0.3],[0.54,-1.2],[0.56,-0.2],[0.58,-1.0],[0.6,-0.3],[0.62,-1.2],[0.64,-0.5],[0.66,-1.3],[0.68,-0.4],[0.7,-1.1],[0.72,-0.6],[0.74,-1.4],[0.76,-0.6],[0.78,-1.2],[0.8,-0.7],[0.82,-1.5],[0.84,-0.8],[0.86,-1.6],[0.88,-0.9],[0.9,-1.4],[0.92,-0.8],[0.94,-1.5],[0.96,-0.9],[0.98,-1.6],[1.0,-1.0],[1.02,-1.7],[1.04,-0.9],[1.06,-1.5],[1.08,-0.8],[1.1,-1.3],[1.12,-0.6],[1.14,-1.2],[1.16,-0.5],[1.18,-1.0],[1.2,-0.3],[1.22,0.6],[1.24,-0.2],[1.26,-0.6],[1.28,-0.3],[1.3,-0.7],[1.32,-0.2],[1.33,0.09],[1.35,-0.4],[1.37,-0.8],[1.39,-0.3],[1.41,-1.0],[1.43,-0.6],[1.46,-1.1]];
const k11RedOpen=[[0,0.7],[0.005,0.1],[0.01,1.39],[0.02,0.3],[0.03,1.0],[0.04,-0.2],[0.05,0.6],[0.06,-0.5],[0.07,0.3],[0.08,-0.6],[0.09,0.0],[0.1,-0.9],[0.12,-1.2],[0.14,-1.5],[0.15,-1.79],[0.17,-2.2],[0.18,-3.0],[0.19,-2.6],[0.2,-3.3],[0.21,-2.8],[0.23,-3.5],[0.25,-3.2],[0.27,-3.7],[0.3,-3.63],[0.32,-3.9],[0.34,-3.8],[0.36,-4.0],[1.52,-4.0]];
const k11RedFilled=[[0,0.6],[0.02,0.9],[0.04,0.2],[0.06,0.6],[0.08,-0.1],[0.1,-0.4],[0.12,-0.5],[0.14,-0.97],[0.16,-1.2],[0.18,-0.8],[0.2,-1.6],[0.22,-1.2],[0.24,-1.4],[0.26,-0.9],[0.28,-1.05],[0.3,-2.0],[0.32,-2.6],[0.35,-2.82],[0.41,-3.0],[0.55,-3.32],[0.69,-3.62],[0.82,-3.9],[0.84,-4.0],[1.52,-4.0]];
const k11BlueOpenMarks=[[0,0.11],[0.14,-0.46],[0.27,-0.7],[0.4,-1.27],[0.54,-0.67],[0.67,-1.29],[0.81,-1.52],[0.94,-1.53],[1.08,-1.86],[1.22,-1.7]];
const k11BlueFilledMarks=[[0,0.2],[1.33,0.09]];
const k11RedOpenMarks=[[0,0.7],[0.15,-1.79],[0.3,-3.63],[0.453,-4],[0.6,-4],[0.748,-4],[0.9,-4],[1.047,-4],[1.195,-4],[1.346,-4]];
const k11RedFilledMarks=[[0.14,-0.97],[0.28,-1.05],[0.41,-3.0],[0.55,-3.32],[0.69,-3.62],[0.82,-3.9],[0.973,-4],[1.118,-4],[1.257,-4]];

const k12BlueOpen=[[0,0.64],[0.015,1.2],[0.03,0.4],[0.045,1.0],[0.06,0.5],[0.075,1.3],[0.09,0.6],[0.105,1.1],[0.12,0.4],[0.135,1.4],[0.148,1.0],[0.16,1.5],[0.175,0.8],[0.18,2.44],[0.19,1.0],[0.205,1.4],[0.22,0.6],[0.235,1.3],[0.25,0.5],[0.265,1.2],[0.29,0.53],[0.305,1.3],[0.32,0.6],[0.335,1.2],[0.35,0.5],[0.365,1.3],[0.38,0.5],[0.395,1.1],[0.41,0.3],[0.435,0.47],[0.45,1.0],[0.465,0.3],[0.48,1.0],[0.495,0.4],[0.51,0.9],[0.525,0.3],[0.54,1.0],[0.555,0.5],[0.58,0.58],[0.6,1.3],[0.62,2.51],[0.635,1.2],[0.65,0.6],[0.665,1.1],[0.68,0.4],[0.695,1.0],[0.725,0.52],[0.74,0.0],[0.755,0.8],[0.77,-0.1],[0.785,0.6],[0.8,-0.2],[0.815,0.5],[0.83,-0.3],[0.845,0.4],[0.87,-0.2],[0.885,0.5],[0.9,-0.4],[0.915,0.3],[0.93,-0.5],[0.945,0.4],[0.96,-0.3],[0.975,0.3],[0.99,-0.6],[1.015,-0.39],[1.03,0.2],[1.045,-0.6],[1.06,0.1],[1.075,-0.7],[1.09,0.2],[1.105,-0.5],[1.12,0.0],[1.135,-0.8],[1.16,-0.17],[1.175,-0.8],[1.19,0.0],[1.205,-0.9],[1.22,-0.2],[1.235,-1.0],[1.25,-0.3],[1.265,-0.9],[1.3,-0.85],[1.315,-0.4],[1.33,-1.0],[1.345,-0.3],[1.36,-0.9],[1.375,-0.5],[1.39,-1.1],[1.405,-0.4],[1.42,-0.8],[1.43,-1.17]];
const k12BlueFilled=[[0,0.8],[0.02,0.4],[0.04,1.1],[0.06,0.6],[0.08,1.2],[0.1,0.5],[0.12,1.0],[0.14,0.6],[0.16,1.1],[0.18,0.5],[0.2,1.2],[0.22,0.7],[0.24,1.0],[0.26,0.4],[0.28,1.1],[0.3,0.5],[0.32,0.9],[0.34,0.4],[0.36,1.2],[0.38,0.6],[0.4,0.9],[0.42,0.3],[0.44,0.8],[0.46,0.4],[0.48,1.1],[0.5,0.5],[0.52,1.0],[0.54,0.2],[0.56,0.8],[0.58,0.3],[0.6,0.9],[0.62,0.5],[0.64,1.0],[0.66,0.4],[0.68,0.9],[0.7,0.6],[0.72,1.1],[0.74,0.3],[0.76,0.7],[0.78,0.0],[0.8,0.5],[0.82,-0.2],[0.84,0.4],[0.86,-0.3],[0.88,0.3],[0.9,-0.4],[0.92,0.2],[0.94,-0.5],[0.96,0.0],[0.98,-0.6],[1.0,0.1],[1.02,-0.7],[1.04,0.0],[1.06,-0.5],[1.08,0.1],[1.1,-0.8],[1.12,-0.2],[1.14,-0.6],[1.16,0.0],[1.18,-0.7],[1.2,-0.3],[1.22,-0.9],[1.24,-0.4],[1.26,-0.8],[1.28,-0.2],[1.3,-0.9],[1.32,-0.3],[1.34,-0.6],[1.36,-0.2],[1.38,-0.7],[1.4,-0.3],[1.42,-0.9]];
const k12RedOpen=[[0,1.44],[0.01,0.8],[0.02,2.5],[0.03,3.3],[0.04,1.0],[0.05,1.8],[0.06,0.5],[0.07,2.8],[0.08,0.0],[0.09,-0.8],[0.1,-1.17],[0.11,-0.9],[0.12,-1.5],[0.14,-1.79],[0.15,-2.2],[0.16,-2.8],[0.17,-2.6],[0.18,-3.3],[0.19,-3.6],[0.2,-3.9],[0.21,-4.17],[1.4,-4.17]];
const k12RedFilled=[[0,1.2],[0.02,2.0],[0.04,1.2],[0.06,1.5],[0.08,0.8],[0.1,0.5],[0.13,0.23],[0.15,0.0],[0.17,-0.3],[0.19,0.6],[0.2,1.74],[0.22,0.2],[0.25,-0.1],[0.27,-0.58],[0.28,-1.77],[0.33,-1.95],[0.4,-2.07],[0.42,-2.3],[0.46,-2.4],[0.48,-1.23],[0.49,-2.5],[0.52,-2.6],[0.53,-3.01],[0.6,-3.9],[0.66,-4.17],[1.4,-4.17]];
const k12BlueOpenMarks=[[0,0.64],[0.148,1.0],[0.29,0.53],[0.435,0.47],[0.58,0.58],[0.725,0.52],[0.87,-0.2],[1.015,-0.39],[1.16,-0.17],[1.3,-0.85]];
const k12BlueFilledMarks=[[0,0.8]];
const k12RedOpenMarks=[[0,1.44],[0.14,-1.79],[0.28,-4.17],[0.419,-4.17],[0.558,-4.17],[0.7,-4.17],[0.844,-4.17],[0.983,-4.17],[1.125,-4.17],[1.264,-4.17]];
const k12RedFilledMarks=[[0.13,0.23],[0.27,-0.58],[0.4,-2.07],[0.53,-3.01],[0.667,-4.17],[0.8,-4.17],[0.933,-4.17],[1.066,-4.17],[1.199,-4.17]];

// tick values / labels
const xTicksK2=[0,0.2,0.4,0.6], xTicksK3=[0,0.2,0.4,0.6,0.8], xTicksQuarter=[0,0.25,0.5,0.75], xTicksQuarter1=[0,0.25,0.5,0.75,1.0];
const xTicksTenth3=[0,0.3,0.6,0.9], xTicksHalf=[0,0.5,1.0], xTicksHalf15=[0,0.5,1.0,1.5];
const yTicksK3=[0,-1,-2,-3], yTickLabelsK3=['1.000','0.100','0.010','0.001'];

// ---- layout (pixel geometry, not data) ----
const panels=[
 {k:2,left:124,right:419,top:50,bottom:304,x0:137.7,xu:366,ye:1,yp:62.3,yd:50,xt:xTicksK2,xd:1,yt:[1,0,-1,-2,-3],s:[k2BlueOpen,k2BlueFilled,k2RedOpen,k2RedFilled],m:[k2BlueOpenMarks,k2BlueFilledMarks,k2RedOpenMarks,k2RedFilledMarks]},
 {k:3,left:550,right:853,top:50,bottom:304,x0:563,xu:348.75,ye:0,yp:101.7,yd:51.7,xt:xTicksK3,xd:1,yt:yTicksK3,yl:yTickLabelsK3,s:[k3BlueOpen,k3BlueFilled,k3RedOpen,k3RedFilled],m:[k3BlueOpenMarks,k3BlueFilledMarks,k3RedOpenMarks,k3RedFilledMarks]},
 {k:4,left:991,right:1287,top:50,bottom:304,x0:1004,xu:340,ye:1,yp:91,yd:42.1,xt:xTicksK3,xd:1,yt:[1,0,-1,-2,-3,-4],s:[k4BlueOpen,k4BlueFilled,k4RedOpen,k4RedFilled],m:[k4BlueOpenMarks,k4BlueFilledMarks,k4RedOpenMarks,k4RedFilledMarks]},
 {k:5,left:1419,right:1716,top:50,bottom:304,x0:1433,xu:282.7,ye:3,yp:56.7,yd:35.3,xt:xTicksQuarter,xd:2,yt:[3,2,1,0,-1,-2,-3,-4],s:[k5BlueOpen,k5BlueFilled,k5RedOpen,k5RedFilled],m:[k5BlueOpenMarks,k5BlueFilledMarks,k5RedOpenMarks,k5RedFilledMarks]},
 {k:6,left:126,right:421,top:434,bottom:688,x0:137.9,xu:266.3,ye:2,yp:467.3,yd:34.9,xt:xTicksQuarter1,xd:2,yt:[2,1,0,-1,-2,-3,-4],s:[k6BlueOpen,k6BlueFilled,k6RedOpen,k6RedFilled],m:[k6BlueOpenMarks,k6BlueFilledMarks,k6RedOpenMarks,k6RedFilledMarks]},
 {k:7,left:559,right:855,top:434,bottom:688,x0:572,xu:244.2,ye:2,yp:463,yd:36,xt:xTicksTenth3,xd:1,yt:[2,1,0,-1,-2,-3,-4],s:[k7BlueOpen,k7BlueFilled,k7RedOpen,k7RedFilled],m:[k7BlueOpenMarks,k7BlueFilledMarks,k7RedOpenMarks,k7RedFilledMarks]},
 {k:8,left:990,right:1285,top:434,bottom:688,x0:1002,xu:248.6,ye:2,yp:444,yd:39.4,xt:xTicksTenth3,xd:1,yt:[2,1,0,-1,-2,-3,-4],s:[k8BlueOpen,k8BlueFilled,k8RedOpen,k8RedFilled],m:[k8BlueOpenMarks,k8BlueFilledMarks,k8RedOpenMarks,k8RedFilledMarks]},
 {k:9,left:1423,right:1719,top:434,bottom:688,x0:1436,xu:212.6,ye:1,yp:463.3,yd:42.6,xt:xTicksHalf,xd:1,yt:[1,0,-1,-2,-3,-4],s:[k9BlueOpen,k9BlueFilled,k9RedOpen,k9RedFilled],m:[k9BlueOpenMarks,k9BlueFilledMarks,k9RedOpenMarks,k9RedFilledMarks]},
 {k:10,left:126,right:421,top:818,bottom:1072,x0:137.9,xu:207.1,ye:3,yp:820.7,yd:33.5,xt:xTicksHalf,xd:1,yt:[3,2,1,0,-1,-2,-3,-4],s:[k10BlueOpen,k10BlueFilled,k10RedOpen,k10RedFilled],m:[k10BlueOpenMarks,k10BlueFilledMarks,k10RedOpenMarks,k10RedFilledMarks]},
 {k:11,left:559,right:855,top:818,bottom:1072,x0:572,xu:179.7,ye:1,yp:846,yd:42.4,xt:xTicksHalf15,xd:1,yt:[1,0,-1,-2,-3,-4],s:[k11BlueOpen,k11BlueFilled,k11RedOpen,k11RedFilled],m:[k11BlueOpenMarks,k11BlueFilledMarks,k11RedOpenMarks,k11RedFilledMarks]},
 {k:12,left:990,right:1285,top:818,bottom:1072,x0:1002,xu:187.4,ye:3,yp:839,yd:30.9,xt:xTicksHalf15,xd:1,yt:[3,2,1,0,-1,-2,-3,-4],s:[k12BlueOpen,k12BlueFilled,k12RedOpen,k12RedFilled],m:[k12BlueOpenMarks,k12BlueFilledMarks,k12RedOpenMarks,k12RedFilledMarks]}
];
const BLUE='#1f7bff', RED='#ff0a0a';
const NS='http://www.w3.org/2000/svg';
const svg=document.getElementById('chart');
function mk(tag,attrs,parent){const e=document.createElementNS(NS,tag);for(const k in attrs)e.setAttribute(k,attrs[k]);(parent||svg).appendChild(e);return e;}
function expLabel(e){const s=e<0?'-':'+';const a=Math.abs(e);return '1e'+s+(a<10?'0':'')+a;}

panels.forEach(p=>{
  const g=mk('g',{});
  
  
  const xs=v=>p.x0+v*p.xu;
  const ys=v=>p.yp+(p.ye-v)*p.yd;
  const colLeft=Math.floor(p.left/432)*432;
  const t=mk('text',{x:p.left,y:p.top-17,'font-size':25,fill:'#000'},g);
  t.textContent='K = '+p.k;
  
  
  const cols=[BLUE,BLUE,RED,RED];
  const widths=[2.8,2.8,2.2,2.2];
  const names=['blue-open-series','blue-filled-series','red-open-series','red-filled-series'];
  p.s.forEach((arr,i)=>{
    const d=arr.map((pt,j)=>(j?'L':'M')+xs(pt[0]).toFixed(1)+' '+ys(pt[1]).toFixed(1)).join('');
    const pa=mk('path',{d:d,fill:'none',stroke:cols[i],'stroke-width':widths[i],'stroke-linejoin':'round'},g);
    
    
  });
  [1,3,0,2].forEach(i=>{
    const open=(i===0||i===2);
    p.m[i].forEach(pt=>{
      const c=mk('circle',{cx:xs(pt[0]).toFixed(1),cy:ys(pt[1]).toFixed(1),r:5.5,fill:open?'#fff':cols[i],stroke:cols[i],'stroke-width':1.8},g);
      
      
    });
  });
  const ax=mk('path',{d:`M${p.left} ${p.top}V${p.bottom}H${p.right}`,fill:'none',stroke:'#000','stroke-width':2.4},g);
  
  
  p.yt.forEach((v,i)=>{
    const y=ys(v);
    mk('line',{x1:p.left-7,x2:p.left,y1:y,y2:y,stroke:'#000','stroke-width':1.8},g);
    const tl=mk('text',{x:p.left-12,y:y+7.5,'text-anchor':'end','font-size':21,fill:'#000'},g);
    tl.textContent=p.yl?p.yl[i]:expLabel(v);
    
    
  });
  p.xt.forEach(v=>{
    const x=xs(v);
    mk('line',{x1:x,x2:x,y1:p.bottom,y2:p.bottom+7,stroke:'#000','stroke-width':1.8},g);
    const tl=mk('text',{x:x,y:p.bottom+30,'text-anchor':'middle','font-size':21,fill:'#000'},g);
    tl.textContent=v.toFixed(p.xd);
    
    
  });
  const xt=mk('text',{x:(p.left+p.right)/2,y:p.bottom+58,'text-anchor':'middle','font-size':25,fill:'#000'},g);
  xt.textContent='runtime (h)';
  
  
  const cy=(p.top+p.bottom)/2, cx=colLeft+26;
  const yt=mk('text',{x:cx,y:cy,'text-anchor':'middle','dominant-baseline':'central','font-size':25.5,fill:'#000',transform:`rotate(-90 ${cx} ${cy})`},g);
  yt.textContent='max KKT residual';
  
  
});
</script>
</body></html>
